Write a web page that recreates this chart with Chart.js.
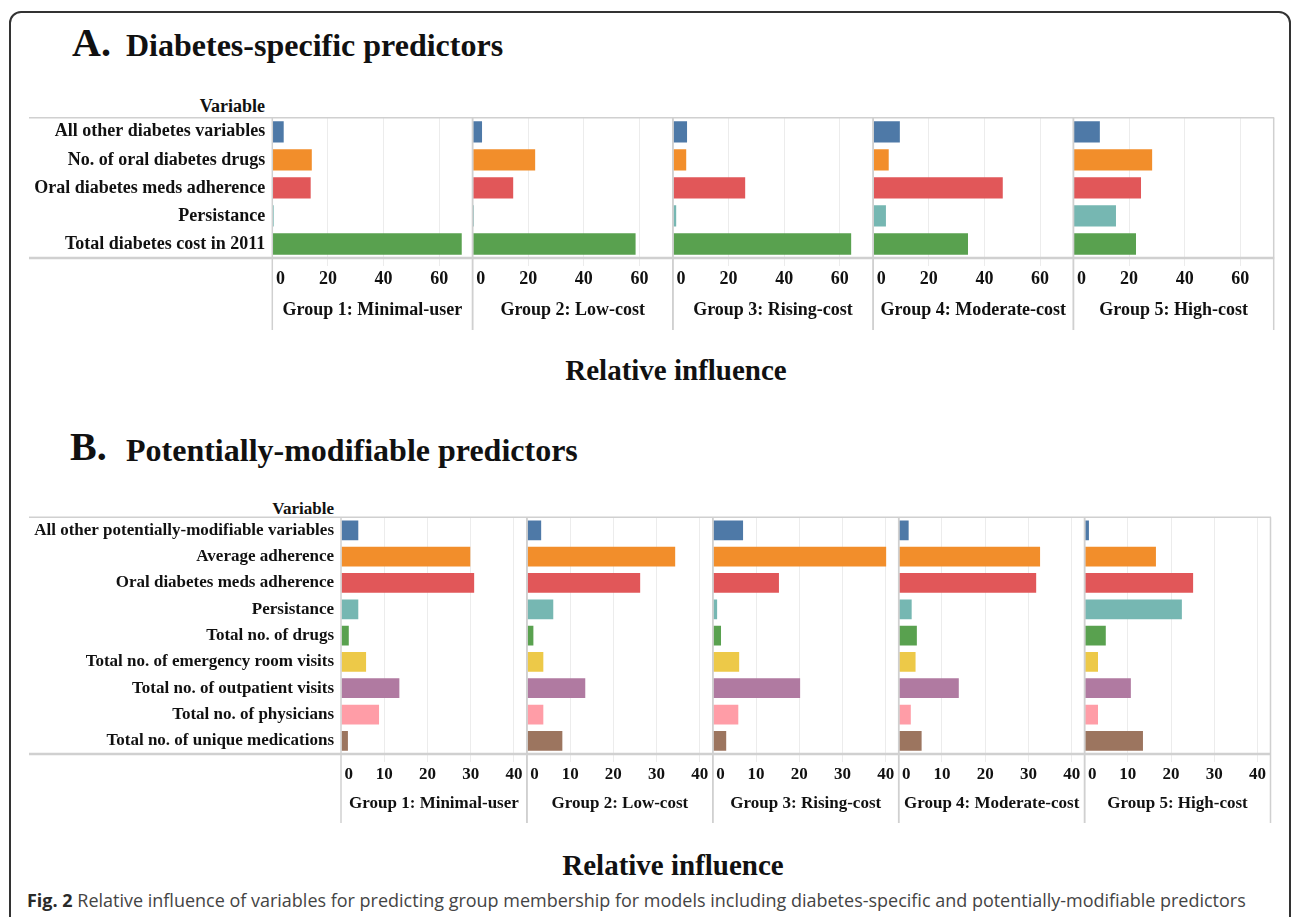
<!DOCTYPE html>
<html>
<head>
<meta charset="utf-8">
<title>Relative influence of predictors</title>
<script src="https://cdn.jsdelivr.net/npm/chart.js@4/dist/chart.umd.min.js"></script>
<style>
  html, body { margin: 0; padding: 0; background: #fff; }
  body { width: 1292px; height: 917px; position: relative; overflow: hidden;
         font-family: "Liberation Serif", "Times New Roman", serif; color: #111; }
  .frame { position: absolute; left: 9px; top: 11px; width: 1282px; height: 960px;
           border: 2px solid #333; border-radius: 12px; box-sizing: border-box; }
  .t { position: absolute; white-space: nowrap; font-weight: bold; line-height: 1; }
  .letter { font-size: 40px; }
  .heading { font-size: 32px; }
  .varhead { text-align: right; }
  .axis-title { font-size: 29px; transform: translateX(-50%); }
  .caption { position: absolute; left: 27px; top: 891px; white-space: nowrap; line-height: 1;
             font-family: "Open Sans", sans-serif; font-size: 18px; color: #444; }
  .caption b { color: #2a2a2a; }
  canvas { position: absolute; left: 0; }
</style>
</head>
<body>
<div class="frame"></div>

<div class="t letter" style="left:72px; top:22.5px;">A.</div>
<div class="t heading" style="left:126px; top:29px;">Diabetes-specific predictors</div>
<div class="t varhead" style="right:1027px; top:97px; font-size:18px;">Variable</div>
<canvas id="chartA" width="1292" height="240" style="top:100px;"></canvas>
<div class="t axis-title" style="left:676px; top:356px;">Relative influence</div>

<div class="t letter" style="left:70px; top:427px;">B.</div>
<div class="t heading" style="left:126px; top:434px;">Potentially-modifiable predictors</div>
<div class="t varhead" style="right:958px; top:499.5px; font-size:17px;">Variable</div>
<canvas id="chartB" width="1292" height="330" style="top:500px;"></canvas>
<div class="t axis-title" style="left:673px; top:851px;">Relative influence</div>

<div class="caption" id="caption"><b>Fig. 2</b> Relative influence of variables for predicting group membership for models including diabetes-specific and potentially-modifiable predictors</div>

<script>
// Trajectory groups (one small multiple each)
const groupLabels = ['Group 1: Minimal-user', 'Group 2: Low-cost', 'Group 3: Rising-cost',
                     'Group 4: Moderate-cost', 'Group 5: High-cost'];

// Panel A: diabetes-specific predictors
const diabetesVariables = ['All other diabetes variables', 'No. of oral diabetes drugs',
  'Oral diabetes meds adherence', 'Persistance', 'Total diabetes cost in 2011'];
const diabetesGroup1 = [4.1, 14.2, 13.8, 0.5, 68.1];
const diabetesGroup2 = [3.4, 22.5, 14.6, 0.5, 58.6];
const diabetesGroup3 = [5.1, 4.8, 26.0, 1.2, 64.1];
const diabetesGroup4 = [9.6, 5.6, 46.6, 4.6, 34.1];
const diabetesGroup5 = [9.5, 28.3, 24.3, 15.3, 22.5];
const diabetesTicks = [0, 20, 40, 60];
const diabetesAxisMax = 72;

// Panel B: potentially-modifiable predictors
const modifiableVariables = ['All other potentially-modifiable variables', 'Average adherence',
  'Oral diabetes meds adherence', 'Persistance', 'Total no. of drugs',
  'Total no. of emergency room visits', 'Total no. of outpatient visits',
  'Total no. of physicians', 'Total no. of unique medications'];
const modifiableGroup1 = [4.0, 29.9, 30.8, 4.0, 1.8, 5.8, 13.5, 8.8, 1.6];
const modifiableGroup2 = [3.3, 34.3, 26.2, 6.1, 1.5, 3.8, 13.5, 3.8, 8.2];
const modifiableGroup3 = [7.0, 40.1, 15.3, 1.0, 1.9, 6.1, 20.2, 5.9, 3.1];
const modifiableGroup4 = [2.3, 32.7, 31.8, 3.0, 4.2, 3.9, 13.9, 2.8, 5.3];
const modifiableGroup5 = [1.0, 16.5, 25.1, 22.5, 4.9, 3.1, 10.7, 3.1, 13.5];
const modifiableTicks = [0, 10, 20, 30, 40];
const modifiableAxisMax = 43;

// Tableau 10 colours, one per variable
const palette = ['#4e79a7', '#f28e2b', '#e15759', '#76b7b2', '#59a14f',
                 '#edc948', '#b07aa1', '#ff9da7', '#9c755f'];

const SERIF = '"Liberation Serif", "Times New Roman", serif';
const RULE = '#d0d0d0';
const GRID = '#ececec';

// Table rules: header/footer lines across the label column and the
// vertical dividers between the group panels (down through the axis area).
const tableRules = {
  id: 'tableRules',
  afterDatasetsDraw(chart) {
    const { ctx, chartArea, scales } = chart;
    const yScale = scales.y;
    const hline = (y, w) => {
      ctx.lineWidth = w;
      ctx.beginPath(); ctx.moveTo(yScale.left, y); ctx.lineTo(chartArea.right + 0.5, y); ctx.stroke();
    };
    ctx.save();
    ctx.strokeStyle = RULE;
    hline(chartArea.top, 1.5);
    hline(chartArea.bottom, 2.5);
    ctx.lineWidth = 1.5;
    Object.values(scales).filter(s => s.axis === 'x').forEach(s => {
      [s.left, s.right].forEach(x => {
        ctx.beginPath(); ctx.moveTo(x, chartArea.top); ctx.lineTo(x, s.bottom); ctx.stroke();
      });
    });
    ctx.restore();
  }
};

function buildPanel(canvasId, variables, groups, tickValues, axisMax, look) {
  const font = { family: SERIF, size: look.fontSize, weight: 'bold' };
  const scales = {
    y: {
      type: 'category',
      position: 'left',
      grid: { display: false, drawTicks: false },
      border: { display: false },
      ticks: { autoSkip: false, padding: 7, color: '#111', font },
      afterFit: (s) => { s.width = look.labelWidth; }
    }
  };
  const datasets = groups.map((values, i) => {
    const id = 'x' + (i + 1);
    const edge = (v) => v === 0 || v === axisMax;
    scales[id] = {
      type: 'linear',
      position: 'bottom',
      stack: 'groups',
      stackWeight: 1,
      min: 0,
      max: axisMax,
      afterBuildTicks: (s) => {
        s.ticks = tickValues.concat([axisMax]).map(v => ({ value: v }));
      },
      ticks: {
        autoSkip: false,
        maxRotation: 0,
        align: 'inner',
        padding: look.tickPad,
        color: '#111',
        font,
        callback: (v) => tickValues.includes(v) ? (v === 0 ? '\u2009' + v : String(v)) : ''
      },
      grid: {
        drawTicks: true,
        tickLength: 8,
        lineWidth: 1,
        color: (c) => edge(c.tick.value) ? 'rgba(0,0,0,0)' : GRID,
        tickColor: (c) => edge(c.tick.value) ? 'rgba(0,0,0,0)' : GRID
      },
      border: { display: false },
      title: {
        display: true,
        text: groupLabels[i],
        color: '#111',
        font,
        padding: { top: 0, bottom: look.titlePad }
      },
      afterFit: (s) => { s.height = look.axisHeight; }
    };
    return {
      label: groupLabels[i],
      data: values,
      xAxisID: id,
      yAxisID: 'y',
      backgroundColor: palette.slice(0, variables.length),
      borderWidth: 0,
      grouped: false,
      categoryPercentage: 1,
      barPercentage: look.barPct
    };
  });

  return new Chart(document.getElementById(canvasId), {
    type: 'bar',
    data: { labels: variables, datasets },
    options: {
      indexAxis: 'y',
      responsive: false,
      animation: false,
      devicePixelRatio: 1,
      layout: { padding: look.padding },
      plugins: { legend: { display: false }, tooltip: { enabled: false }, title: { display: false } },
      scales
    },
    plugins: [tableRules]
  });
}

buildPanel('chartA', diabetesVariables,
  [diabetesGroup1, diabetesGroup2, diabetesGroup3, diabetesGroup4, diabetesGroup5],
  diabetesTicks, diabetesAxisMax,
  { fontSize: 18, labelWidth: 243.3, axisHeight: 72, tickPad: 2.7, titlePad: 9.2, barPct: 0.76,
    padding: { left: 29, right: 18.3, top: 16, bottom: 10 } });

buildPanel('chartB', modifiableVariables,
  [modifiableGroup1, modifiableGroup2, modifiableGroup3, modifiableGroup4, modifiableGroup5],
  modifiableTicks, modifiableAxisMax,
  { fontSize: 17, labelWidth: 312, axisHeight: 69, tickPad: 2.5, titlePad: 9.5, barPct: 0.75,
    padding: { left: 29, right: 21.5, top: 17, bottom: 7 } });

// Fit the caption line to the figure width
const cap = document.getElementById('caption');
cap.style.transformOrigin = '0 0';
cap.style.transform = 'scaleX(' + (1219 / cap.offsetWidth) + ')';
</script>
</body>
</html>
